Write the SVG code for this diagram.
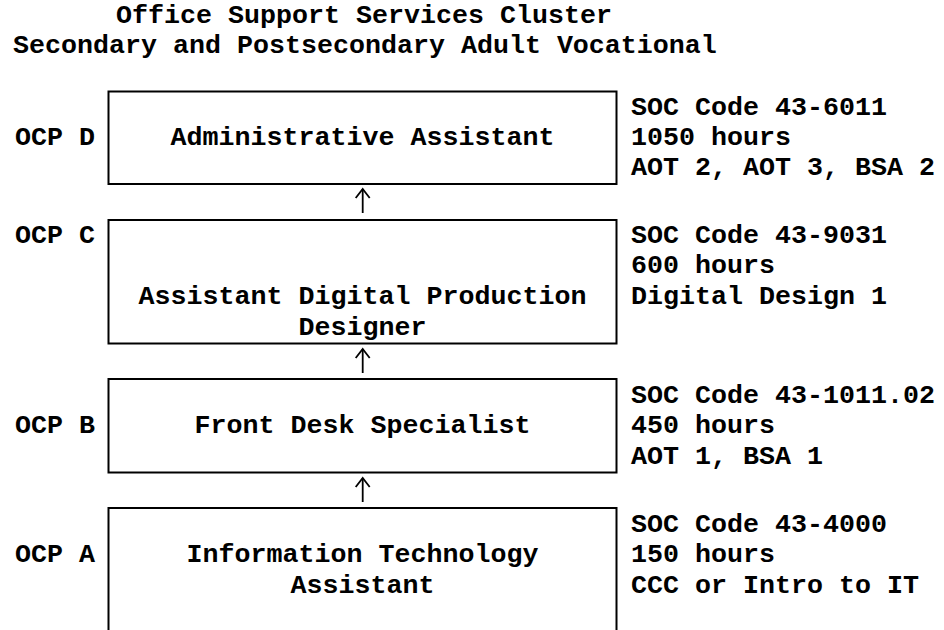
<svg xmlns="http://www.w3.org/2000/svg" width="944" height="630" viewBox="0 0 944 630">
<style>
text{font-family:"Liberation Mono","Courier New",monospace;font-weight:bold;font-size:26.67px;fill:#000}
.c{text-anchor:middle}
.box{fill:#fff;stroke:#000;stroke-width:2}
.conn line{stroke:#000;stroke-width:1.8}
</style>
<defs>
<marker id="ah" markerUnits="userSpaceOnUse" markerWidth="20" markerHeight="20" refX="10" refY="10" orient="auto" viewBox="0 0 20 20">
<polyline points="1,3 10,10 1,17" fill="none" stroke="#000" stroke-width="1.8"/>
</marker>
</defs>
<rect width="944" height="630" fill="#fff"/>
<g id="title">
<text x="116" y="23">Office Support Services Cluster</text>
<text x="13" y="53">Secondary and Postsecondary Adult Vocational</text>
</g>
<g id="nodeD">
<rect class="box" x="108.5" y="91.5" width="508" height="92.5"/>
<text x="15" y="145">OCP D</text>
<text class="c" x="362.5" y="145">Administrative Assistant</text>
<text x="631" y="115">SOC Code 43-6011</text>
<text x="631" y="145">1050 hours</text>
<text x="631" y="175">AOT 2, AOT 3, BSA 2</text>
</g>
<g id="nodeC">
<rect class="box" x="108.5" y="220" width="508" height="123.5"/>
<text x="15" y="243">OCP C</text>
<text class="c" x="362.5" y="304">Assistant Digital Production</text>
<text class="c" x="362.5" y="335">Designer</text>
<text x="631" y="243">SOC Code 43-9031</text>
<text x="631" y="273">600 hours</text>
<text x="631" y="304">Digital Design 1</text>
</g>
<g id="nodeB">
<rect class="box" x="108.5" y="379" width="508" height="93.5"/>
<text x="15" y="433">OCP B</text>
<text class="c" x="362.5" y="433">Front Desk Specialist</text>
<text x="631" y="403">SOC Code 43-1011.02</text>
<text x="631" y="433">450 hours</text>
<text x="631" y="464">AOT 1, BSA 1</text>
</g>
<g id="nodeA">
<rect class="box" x="108.5" y="508" width="508" height="140"/>
<text x="15" y="562">OCP A</text>
<text class="c" x="362.5" y="562">Information Technology</text>
<text class="c" x="362.5" y="593">Assistant</text>
<text x="631" y="532">SOC Code 43-4000</text>
<text x="631" y="562">150 hours</text>
<text x="631" y="593">CCC or Intro to IT</text>
</g>
<g class="conn" id="connectors">
<line x1="362.7" y1="213" x2="362.7" y2="189" marker-end="url(#ah)"/>
<line x1="362.7" y1="373" x2="362.7" y2="349" marker-end="url(#ah)"/>
<line x1="362.7" y1="502" x2="362.7" y2="478" marker-end="url(#ah)"/>
</g>
</svg>
